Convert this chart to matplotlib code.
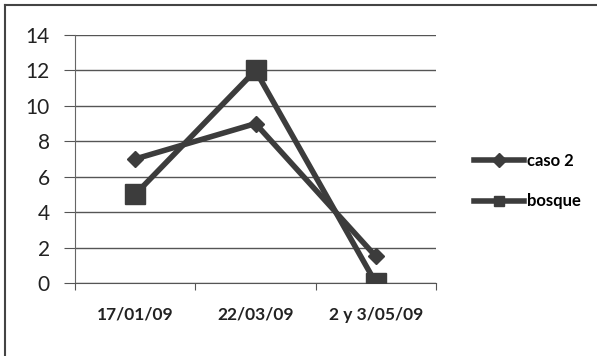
import matplotlib
matplotlib.use("Agg")
import matplotlib.pyplot as plt
from matplotlib.lines import Line2D

# fechas de muestreo y valores
fechas = ["17/01/09", "22/03/09", "2 y 3/05/09"]
caso2 = [7, 9, 1.5]
bosque = [5, 12, 0]

gris = "#3c3c3c"
plt.rcParams["font.family"] = ["Lato", "DejaVu Sans"]

fig = plt.figure(figsize=(5.97, 3.56), dpi=100)
ax = fig.add_axes([75 / 597, 1 - 283 / 356, 361 / 597, 248 / 356])

x = list(range(len(fechas)))
ax.plot(x, caso2, color=gris, lw=4, marker="D", ms=8, label="caso 2", zorder=3)
ax.plot(x, bosque, color=gris, lw=4, marker="s", ms=15, label="bosque", zorder=3)

ax.set_xlim(-0.5, 2.5)
ax.set_ylim(0, 14)
ax.set_yticks(range(0, 15, 2))
ax.yaxis.grid(True, color="#555555", lw=1)
ax.set_axisbelow(True)

ax.set_xticks([-0.5, 0.5, 1.5, 2.5])
ax.set_xticklabels([])
ax.set_xticks(x, minor=True)
ax.set_xticklabels(fechas, minor=True, fontsize=12.5, fontweight="bold", color="#222222")
ax.tick_params(axis="x", which="minor", length=0, pad=17)
ax.tick_params(axis="x", which="major", length=5, color="#555555", direction="out")
ax.tick_params(axis="y", length=8, color="#555555", labelsize=15, labelcolor="#222222", pad=10)

for s in ["top", "right"]:
    ax.spines[s].set_visible(False)
ax.spines["left"].set_color("#666666")
ax.spines["bottom"].set_color("#555555")

leg = ax.legend(loc="center left", bbox_to_anchor=(1.065, 0.41), frameon=False,
                handlelength=3.0, handletextpad=0.15, labelspacing=1.45,
                prop={"size": 12, "weight": "bold"})
for h in leg.legend_handles:
    h.set_markersize(7)

# marco exterior
fig.add_artist(Line2D([5 / 597, 1], [1 - 5 / 356, 1 - 5 / 356], color="#444444", lw=1.5))
fig.add_artist(Line2D([5 / 597, 5 / 597], [0, 1 - 5 / 356], color="#444444", lw=1.5))

fig.savefig("out.png", dpi=100)
